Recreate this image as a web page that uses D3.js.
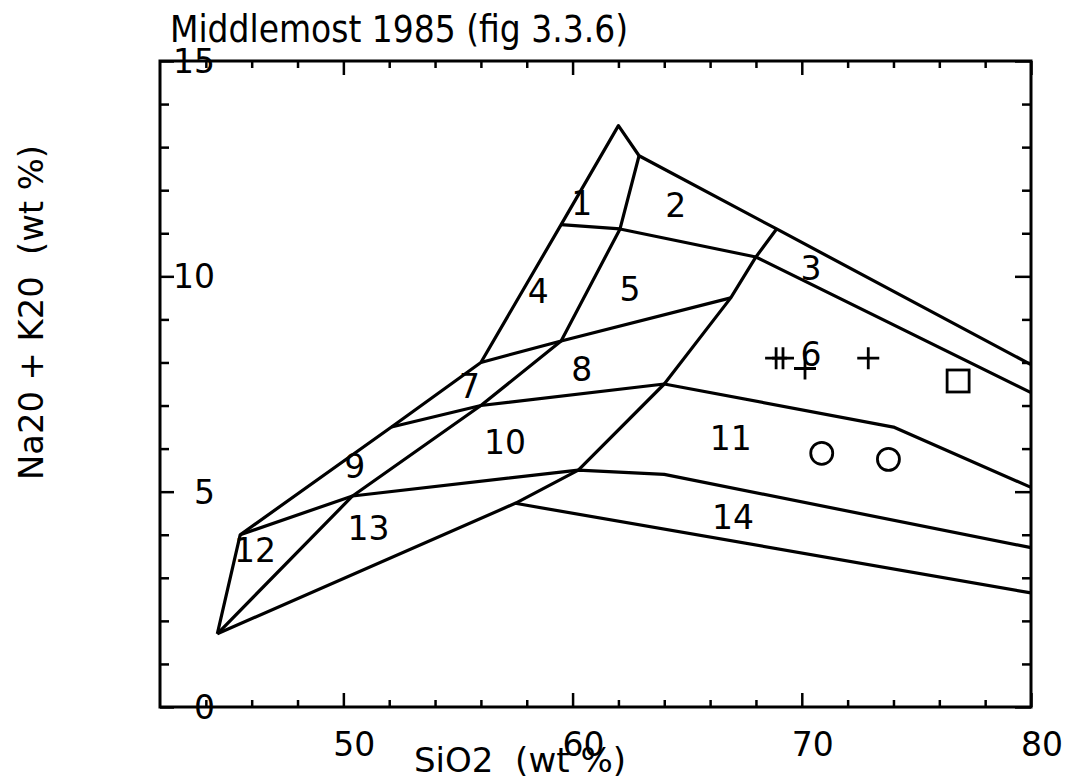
<!DOCTYPE html>
<html>
<head>
<meta charset="utf-8">
<script src="https://cdn.jsdelivr.net/npm/d3@7"></script>
<style>
  body { margin: 0; background: #fff; }
  svg text { font-family: "DejaVu Sans", sans-serif; fill: #000; white-space: pre; }
</style>
</head>
<body>
<svg id="chart" width="1067" height="783"></svg>
<script>
// field boundaries, [SiO2, Na2O+K2O]
let outerTop = [[44.5, 1.7], [45.5, 4.0], [52.1, 6.5], [56, 8], [59.5, 11.2], [62, 13.5], [62.9, 12.8], [68.9, 11.1], [80, 7.95]];
let outerBottom = [[44.5, 1.7], [57.5, 4.73], [80, 2.65]];
let bigCurve = [[57.5, 4.73], [60.25, 5.5], [64, 7.5], [66.9, 9.5], [68, 10.45], [68.9, 11.1]];
let diagonal = [[44.5, 1.7], [50.4, 4.9], [56, 7], [59.5, 8.5], [62.07, 11.1], [62.9, 12.8]];
let line13 = [[45.5, 4.0], [50.4, 4.9], [60.25, 5.5], [64, 5.4], [80, 3.7]];
let line10 = [[52.1, 6.5], [56, 7], [64, 7.5], [74, 6.5], [80, 5.1]];
let line8 = [[56, 8], [59.5, 8.5], [66.9, 9.5]];
let line5 = [[59.5, 11.2], [62.07, 11.1], [68, 10.45], [80, 7.3]];

let fieldNames = ['1', '2', '3', '4', '5', '6', '7', '8', '9', '10', '11', '12', '13', '14'];
let fieldX = [60.4, 64.5, 70.4, 58.5, 62.5, 70.4, 55.5, 60.4, 50.5, 57.05, 66.9, 46.15, 51.1, 67.0];
let fieldY = [11.7, 11.65, 10.2, 9.65, 9.7, 8.2, 7.45, 7.85, 5.6, 6.15, 6.25, 3.65, 4.15, 4.4];

// samples
let crossPts = [[68.88, 8.1], [69.18, 8.1], [70.14, 7.86], [72.9, 8.1]];
let squarePts = [[76.82, 7.57]];
let circlePts = [[70.87, 5.89], [73.78, 5.75]];

let xMajor = [50, 60, 70, 80];
let xMinor = [44, 46, 48, 52, 54, 56, 58, 62, 64, 66, 68, 72, 74, 76, 78];
let yMajor = [0, 5, 10, 15];
let yMinor = [1, 2, 3, 4, 6, 7, 8, 9, 11, 12, 13, 14];

let margin = { top: 61, right: 36, bottom: 76, left: 160 };
let svgWidth = 1067, svgHeight = 783;
let width = svgWidth - margin.left - margin.right;
let height = svgHeight - margin.top - margin.bottom;

let svg = d3.select('#chart');
let g = svg.append('g').attr('transform', 'translate(' + margin.left + ',' + margin.top + ')');

let x = d3.scaleLinear().domain([42, 80]).range([0, width]);
let y = d3.scaleLinear().domain([0, 15]).range([height, 0]);

function tickAxis(axis, size, values, transform) {
    let a = g.append('g')
        .attr('transform', transform)
        .call(axis.tickValues(values).tickSizeInner(size).tickSizeOuter(0).tickFormat(''));
    a.select('.domain').remove();
    a.selectAll('line').attr('stroke', '#000').attr('stroke-width', 2.5);
    return a;
}

tickAxis(d3.axisBottom(x), -7, xMinor, 'translate(0,' + height + ')');
tickAxis(d3.axisBottom(x), -14, xMajor, 'translate(0,' + height + ')');
tickAxis(d3.axisTop(x), -7, xMinor, 'translate(0,0)');
tickAxis(d3.axisTop(x), -14, xMajor, 'translate(0,0)');
tickAxis(d3.axisLeft(y), -9, yMinor, 'translate(0,0)');
tickAxis(d3.axisLeft(y), -14, yMajor, 'translate(0,0)');
tickAxis(d3.axisRight(y), -9, yMinor, 'translate(' + width + ',0)');
tickAxis(d3.axisRight(y), -16, yMajor, 'translate(' + width + ',0)');

g.append('rect')
    .attr('x', 0).attr('y', 0)
    .attr('width', width).attr('height', height)
    .attr('fill', 'none')
    .attr('stroke', '#000')
    .attr('stroke-width', 3);

// tick labels
g.selectAll('.xlab')
    .data(xMajor)
    .enter().append('text')
    .attr('class', 'xlab')
    .attr('x', d => x(d) + 11)
    .attr('y', height + 49)
    .attr('text-anchor', 'middle')
    .style('font-size', '33px')
    .text(d => d);

g.selectAll('.ylab')
    .data(yMajor)
    .enter().append('text')
    .attr('class', 'ylab')
    .attr('x', 55)
    .attr('y', d => y(d))
    .attr('dy', '0.36em')
    .attr('text-anchor', 'end')
    .style('font-size', '33px')
    .text(d => d);

// field boundaries
let line = d3.line().x(d => x(d[0])).y(d => y(d[1]));
let boundaries = [outerTop, outerBottom, bigCurve, diagonal, line13, line10, line8, line5];
g.selectAll('.field')
    .data(boundaries)
    .enter().append('path')
    .attr('class', 'field')
    .attr('d', line)
    .attr('fill', 'none')
    .attr('stroke', '#000')
    .attr('stroke-width', 3.2)
    .attr('stroke-linejoin', 'round');

g.selectAll('.fname')
    .data(fieldNames)
    .enter().append('text')
    .attr('class', 'fname')
    .attr('x', (d, i) => x(fieldX[i]))
    .attr('y', (d, i) => y(fieldY[i]))
    .attr('dy', '0.36em')
    .attr('text-anchor', 'middle')
    .style('font-size', '33px')
    .text(d => d);

// samples
g.selectAll('.cross')
    .data(crossPts)
    .enter().append('path')
    .attr('class', 'cross')
    .attr('transform', d => 'translate(' + x(d[0]) + ',' + y(d[1]) + ')')
    .attr('d', 'M-11,0H11M0,-11V11')
    .attr('stroke', '#000')
    .attr('stroke-width', 2.8);

g.selectAll('.square')
    .data(squarePts)
    .enter().append('rect')
    .attr('class', 'square')
    .attr('x', d => x(d[0]) - 11)
    .attr('y', d => y(d[1]) - 11)
    .attr('width', 22)
    .attr('height', 22)
    .attr('fill', 'none')
    .attr('stroke', '#000')
    .attr('stroke-width', 2.8);

g.selectAll('.circ')
    .data(circlePts)
    .enter().append('circle')
    .attr('class', 'circ')
    .attr('cx', d => x(d[0]))
    .attr('cy', d => y(d[1]))
    .attr('r', 11)
    .attr('fill', 'none')
    .attr('stroke', '#000')
    .attr('stroke-width', 2.8);

// titles
svg.append('text')
    .attr('x', 170)
    .attr('y', 42)
    .attr('textLength', 458)
    .attr('lengthAdjust', 'spacingAndGlyphs')
    .style('font-size', '37px')
    .text('Middlemost 1985 (fig 3.3.6)');

svg.append('text')
    .attr('x', 414)
    .attr('y', 772)
    .attr('textLength', 212)
    .attr('lengthAdjust', 'spacingAndGlyphs')
    .style('font-size', '34px')
    .text('SiO2  (wt %)');

svg.append('text')
    .attr('transform', 'translate(43,480) rotate(-90)')
    .attr('textLength', 335)
    .attr('lengthAdjust', 'spacingAndGlyphs')
    .style('font-size', '34px')
    .text('Na20 + K20  (wt %)');
</script>
</body>
</html>
